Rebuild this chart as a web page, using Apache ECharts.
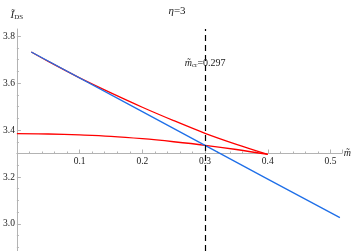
<!DOCTYPE html>
<html><head><meta charset="utf-8">
<script src="https://cdn.jsdelivr.net/npm/echarts@6/dist/echarts.min.js"></script>
<style>html,body{margin:0;padding:0;background:#fff}#c{width:354px;height:251px}</style>
</head><body><div id="c"></div>
<script>
// Data
const upperM = [0.023, 0.05, 0.1, 0.15, 0.2, 0.25, 0.3, 0.35, 0.4];
const upperY = [3.732, 3.692, 3.622, 3.558, 3.497, 3.440, 3.386, 3.339, 3.296];
const lowerM = [0, 0.05, 0.1, 0.15, 0.2, 0.25, 0.3, 0.35, 0.4];
const lowerY = [3.385, 3.383, 3.379, 3.373, 3.363, 3.35, 3.335, 3.317, 3.296];
const blueM = [0.023, 0.2, 0.4, 0.515];
const blueY = [3.732, 3.478, 3.191, 3.027];
const mCr = 0.297;
const xTicks = [0.1, 0.2, 0.3, 0.4, 0.5];
const yTicks = [3.0, 3.2, 3.4, 3.6, 3.8];
const yMinorTicks = [2.9, 2.95, 3.05, 3.1, 3.15, 3.25, 3.3, 3.35, 3.45, 3.5, 3.55, 3.65, 3.7, 3.75];

const pairs = (xs, ys) => xs.map((x, i) => [x, ys[i]]);
const serif = 'Liberation Serif';
const axisGray = '#b3b3b3';

const chart = echarts.init(document.getElementById('c'));
chart.setOption({
  animation: false,
  title: {
    text: '{i|η}=3', left: 'center', top: 1,
    textStyle: {fontFamily: serif, fontSize: 11, fontWeight: 'normal', color: '#222',
      rich: {i: {fontFamily: serif, fontStyle: 'italic', fontSize: 11, color: '#222'}}}
  },
  grid: {left: 15, right: 8, top: 29, bottom: 0, containLabel: false},
  xAxis: {
    type: 'value', min: 0, max: 0.518, interval: 0.1, position: 'bottom', offset: -97.5,
    axisLine: {lineStyle: {color: axisGray, width: 1}},
    axisTick: {inside: true, length: 4, lineStyle: {color: axisGray}},
    minorTick: {show: true, splitNumber: 5, length: 2, lineStyle: {color: axisGray}},
    splitLine: {show: false},
    axisLabel: {customValues: xTicks, formatter: v => v.toFixed(1), fontFamily: serif, fontSize: 9.5, color: '#222', margin: 3},
    name: '{i|m̃}', nameLocation: 'end', nameGap: 2,
    nameTextStyle: {rich: {i: {fontFamily: serif, fontStyle: 'italic', fontSize: 10, color: '#222'}}, verticalAlign: 'middle'}
  },
  yAxis: [{
    type: 'value', min: 2.885, max: 3.83,
    axisLine: {show: true, lineStyle: {color: axisGray, width: 1}},
    axisTick: {inside: true, length: 4, customValues: yTicks, lineStyle: {color: axisGray}},
    splitLine: {show: false},
    axisLabel: {customValues: yTicks, formatter: v => v.toFixed(1), fontFamily: serif, fontSize: 9.5, color: '#222', margin: 2},
    name: '{i|Ĩ}{s|DS}', nameLocation: 'end', nameGap: 8,
    nameTextStyle: {align: 'center', rich: {
      i: {fontFamily: serif, fontStyle: 'italic', fontSize: 11, color: '#222'},
      s: {fontFamily: serif, fontSize: 7, color: '#222', verticalAlign: 'bottom', padding: [5, 0, 0, 0]}}}
  }, {
    type: 'value', min: 2.885, max: 3.83, position: 'left',
    axisLine: {show: false},
    axisTick: {inside: true, length: 2, customValues: yMinorTicks, lineStyle: {color: axisGray}},
    axisLabel: {show: false}, splitLine: {show: false}
  }],
  series: [
    {type: 'line', data: pairs(lowerM, lowerY), smooth: 0.4, showSymbol: false,
      lineStyle: {color: '#ff0000', width: 1.3}},
    {type: 'line', data: pairs(upperM, upperY), smooth: 0.3, showSymbol: false,
      lineStyle: {color: '#ff0000', width: 1.3}},
    {type: 'line', data: pairs(blueM, blueY), smooth: false, showSymbol: false,
      lineStyle: {color: '#1f6fe8', width: 1.3},
      markLine: {symbol: 'none', silent: true,
        lineStyle: {color: '#000', type: [6, 4], width: 1.2},
        label: {show: false},
        data: [{xAxis: mCr}]},
      markPoint: {symbol: 'circle', symbolSize: 0, silent: true,
        data: [{coord: [mCr, 3.685],
          label: {show: true, position: 'inside', offset: [2, 0],
            formatter: '{i|m̃}{s|cr}=0.297',
            rich: {
              i: {fontFamily: serif, fontStyle: 'italic', fontSize: 10, color: '#222'},
              s: {fontFamily: serif, fontSize: 7, color: '#222', padding: [4, 0, 0, 0]},
            },
            fontFamily: serif, fontSize: 10, color: '#222'}}]}}
  ]
});
</script></body></html>
